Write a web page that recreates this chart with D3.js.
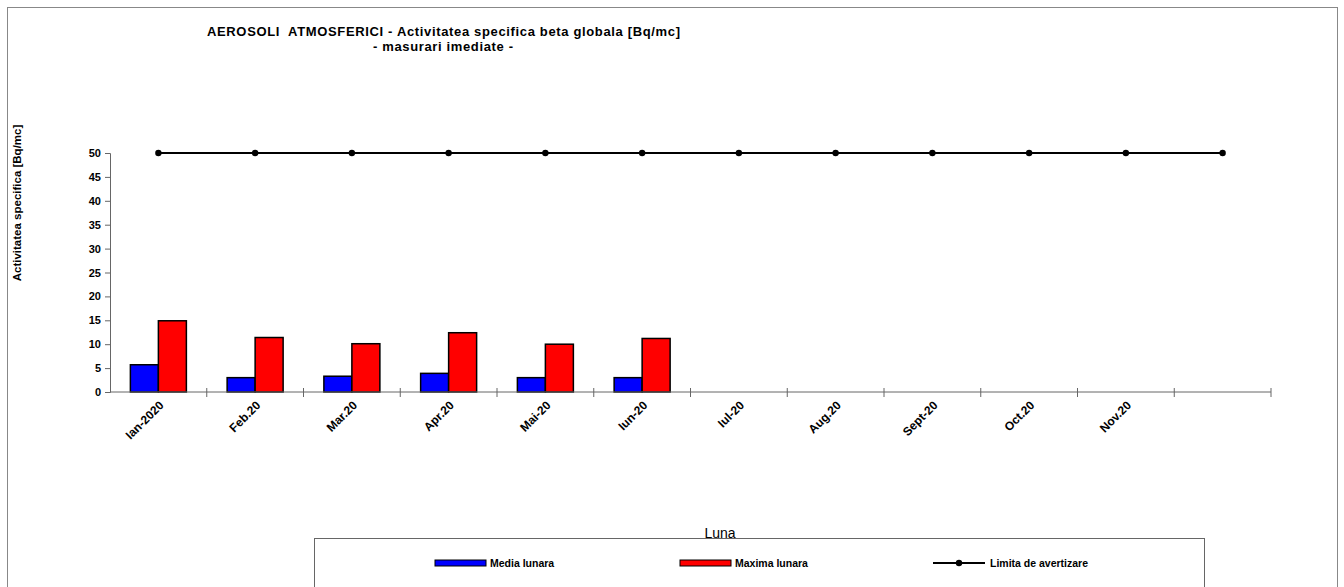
<!DOCTYPE html>
<html><head><meta charset="utf-8">
<script src="https://cdn.jsdelivr.net/npm/d3@7"></script>
<style>body{margin:0;background:#fff}svg{display:block}text{font-family:"Liberation Sans",Arial,sans-serif}</style>
</head><body><svg id="c" width="1344" height="587"></svg>
<script>
const months = ["Ian-2020","Feb.20","Mar.20","Apr.20","Mai-20","Iun-20","Iul-20","Aug.20","Sept-20","Oct.20","Nov.20","Dec"];
const monthLabels = ["Ian-2020","Feb.20","Mar.20","Apr.20","Mai-20","Iun-20","Iul-20","Aug.20","Sept-20","Oct.20","Nov.20",""];
const mediaLunara = [5.7, 3.0, 3.3, 3.9, 3.0, 3.0];
const maximaLunara = [14.9, 11.4, 10.1, 12.4, 10.0, 11.2];
const limita = [50,50,50,50,50,50,50,50,50,50,50,50];
const yTicks = [0,5,10,15,20,25,30,35,40,45,50];

const svg = d3.select("#c");
svg.append("rect").attr("x",7.5).attr("y",7.5).attr("width",1330).attr("height",600)
  .attr("fill","none").attr("stroke","#888").attr("stroke-width",1);

const x = d3.scaleBand().domain(months).range([110,1271]).padding(0);
const y = d3.scaleLinear().domain([0,50]).range([392,153]);
const inner = d3.scaleBand().domain(["media","maxima"]).range([0,56]);
const off = (x.bandwidth()-56)/2;

// bars
const g = svg.append("g");
g.selectAll("rect.m").data(mediaLunara).join("rect")
  .attr("x",(d,i)=>x(months[i])+off+inner("media")).attr("y",d=>y(d))
  .attr("width",inner.bandwidth()).attr("height",d=>y(0)-y(d))
  .attr("fill","#0000ff").attr("stroke","#000").attr("stroke-width",1.5);
g.selectAll("rect.x").data(maximaLunara).join("rect")
  .attr("x",(d,i)=>x(months[i])+off+inner("maxima")).attr("y",d=>y(d))
  .attr("width",inner.bandwidth()).attr("height",d=>y(0)-y(d))
  .attr("fill","#ff0000").attr("stroke","#000").attr("stroke-width",1.5);

// y axis
const ya = svg.append("g").attr("transform","translate(110,0)")
  .call(d3.axisLeft(y).tickValues(yTicks).tickSize(5).tickPadding(4));
ya.select(".domain").attr("stroke","#666");
ya.selectAll(".tick line").attr("stroke","#666");
ya.selectAll("text").attr("font-size",11).attr("font-weight","bold").attr("fill","#000");

// x axis
const xa = svg.append("g").attr("transform","translate(0,392)");
xa.append("line").attr("x1",110).attr("x2",1271).attr("stroke","#666");
const bounds = months.map(m=>x(m)).concat([x(months[months.length-1])+x.bandwidth()]).slice(1);
xa.selectAll("line.t").data(bounds).join("line").attr("x1",d=>d).attr("x2",d=>d)
  .attr("y1",-4).attr("y2",5).attr("stroke","#666");
xa.selectAll("text").data(monthLabels).join("text")
  .attr("transform",(d,i)=>`translate(${x(months[i])+x.bandwidth()/2+6},${14}) rotate(-45)`)
  .attr("text-anchor","end").attr("font-size",12).attr("font-weight","bold").text(d=>d);

// line
const cx = (d,i)=>x(months[i])+x.bandwidth()/2;
svg.append("path").datum(limita)
  .attr("d",d3.line().x(cx).y(d=>y(d))).attr("fill","none").attr("stroke","#000").attr("stroke-width",2);
svg.selectAll("circle.p").data(limita).join("circle")
  .attr("cx",cx).attr("cy",d=>y(d)).attr("r",3.2).attr("fill","#000");

// titles
svg.append("text").attr("x",207).attr("y",36)
  .attr("font-size",13).attr("font-weight","bold").attr("xml:space","preserve")
  .attr("textLength",473).attr("lengthAdjust","spacing")
  .text("AEROSOLI  ATMOSFERICI - Activitatea specifica beta globala [Bq/mc]");
svg.append("text").attr("x",373).attr("y",51)
  .attr("font-size",13).attr("font-weight","bold")
  .attr("textLength",140).attr("lengthAdjust","spacing").text("- masurari imediate -");
svg.append("text").attr("transform","translate(21,203) rotate(-90)").attr("text-anchor","middle")
  .attr("font-size",11.5).attr("font-weight","bold").text("Activitatea specifica [Bq/mc]");
svg.append("text").attr("x",720).attr("y",538).attr("text-anchor","middle")
  .attr("font-size",14).text("Luna");

// legend
svg.append("rect").attr("x",314.5).attr("y",538.5).attr("width",890).attr("height",80)
  .attr("fill","#fff").attr("stroke","#666");
const lg = svg.append("g");
lg.append("rect").attr("x",435).attr("y",560).attr("width",51).attr("height",6).attr("fill","#0000ff").attr("stroke","#000");
lg.append("text").attr("x",490).attr("y",567).attr("font-size",10.5).attr("font-weight","bold").text("Media lunara");
lg.append("rect").attr("x",680).attr("y",560).attr("width",51).attr("height",6).attr("fill","#ff0000").attr("stroke","#000");
lg.append("text").attr("x",735).attr("y",567).attr("font-size",10.5).attr("font-weight","bold").text("Maxima lunara");
lg.append("line").attr("x1",933).attr("x2",985).attr("y1",563).attr("y2",563).attr("stroke","#000").attr("stroke-width",2);
lg.append("circle").attr("cx",959).attr("cy",563).attr("r",3.2).attr("fill","#000");
lg.append("text").attr("x",990).attr("y",567).attr("font-size",10.5).attr("font-weight","bold").text("Limita de avertizare");
</script></body></html>
